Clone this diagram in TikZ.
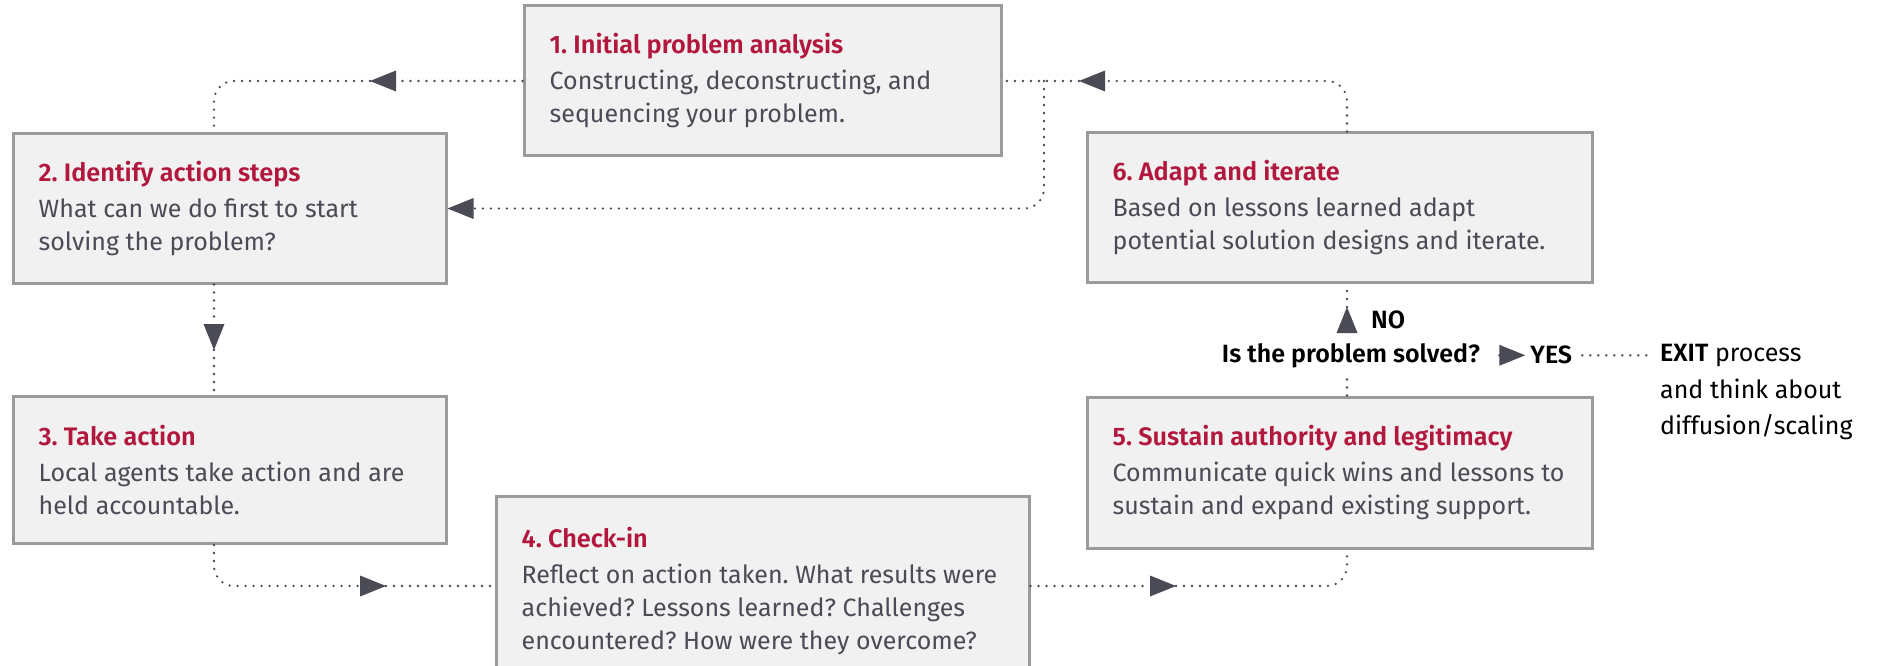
\documentclass[tikz,border=0pt]{standalone}
\usepackage{fontspec}
\setmainfont{Fira Sans}
\newfontfamily\semi{Fira Sans SemiBold}
\usetikzlibrary{arrows.meta,positioning}
\definecolor{rojo}{HTML}{B2183E}
\definecolor{gris}{HTML}{4A4B55}
\definecolor{fondo}{HTML}{F0F1F0}
\definecolor{borde}{HTML}{9B9B9E}
\newcommand{\encabezado}[1]{{\semi\fontsize{25.3}{33}\selectfont\color{rojo}#1}\\[3pt]}
\tikzstyle{caja}=[
	rectangle,
	draw=borde,
	line width=3pt,
	fill=fondo]
\tikzstyle{texto}=[
	align=left,
	inner xsep=27pt,
	inner ysep=0pt,
	text=gris,
	font=\fontsize{25}{33}\selectfont]
\tikzstyle{flujo}=[
	draw=gris,
	line width=2.6pt,
	line cap=round,
	dash pattern=on 0pt off 8pt]
\tikzstyle{decision}=[
	font=\fontsize{25}{33}\selectfont\semi,
	inner xsep=5pt,
	inner ysep=2pt]

\begin{document}
\frenchspacing
\begin{tikzpicture}[x=1pt,y=-1pt,>={Triangle[length=26pt,width=21pt,line width=0pt]}]
	\useasboundingbox (0,0) rectangle (1877,666);
	\clip (0,0) rectangle (1877,666);
	\begin{scope}
		\node[caja,minimum width=477pt,minimum height=150pt]	(analisis)	at (762.5,81)	{};
		\node[caja,minimum width=433pt,minimum height=149pt]	(pasos)		at (229.5,208.5)	{};
		\node[caja,minimum width=433pt,minimum height=147pt]	(accion)	at (229.5,470)	{};
		\node[caja,minimum width=533pt,minimum height=180pt]	(revision)	at (762.5,586)	{};
		\node[caja,minimum width=505pt,minimum height=151pt]	(sostener)	at (1339.5,472.5)	{};
		\node[caja,minimum width=505pt,minimum height=149pt]	(adaptar)	at (1339.5,207.5)	{};
		\node[texto]	(analisis txt)	[right=0pt of analisis.west]	{\encabezado{1. Initial problem analysis}Constructing, deconstructing, and\\sequencing your problem.};
		\node[texto]	(pasos txt)		[right=0pt of pasos.west]	{\encabezado{2. Identify action steps}What can we do first to start\\solving the problem?};
		\node[texto]	(accion txt)	[right=0pt of accion.west]	{\encabezado{3. Take action}Local agents take action and are\\held accountable.};
		\node[texto,yshift=-5pt]	(revision txt)	[right=0pt of revision.west]	{\encabezado{4. Check-in}Reflect on action taken. What results were\\achieved? Lessons learned? Challenges\\encountered? How were they overcome?};
		\node[texto]	(sostener txt)	[right=0pt of sostener.west]	{\encabezado{5. Sustain authority and legitimacy}Communicate quick wins and lessons to\\sustain and expand existing support.};
		\node[texto]	(adaptar txt)	[right=0pt of adaptar.west]	{\encabezado{6. Adapt and iterate}Based on lessons learned adapt\\potential solution designs and iterate.};
		\node[decision,anchor=base]	(pregunta)	at (1351,362)	{Is the problem solved?};
		\node[decision,anchor=west]	(no)	at (1366,320)	{NO};
		\node[decision,right=40pt of pregunta]	(si)	{YES};
		\node[anchor=north west,align=left,inner xsep=8pt,inner ysep=0pt,font=\fontsize{25}{36.5}\selectfont]	(salida)	at (1652,344)	{{\semi EXIT} process\\and think about\\diffusion/scaling};
	\end{scope}
	\begin{scope}
		\coordinate (ci) at (214,0);
		\coordinate (cd) at (1347,0);
		\coordinate (rama) at (1044,81);
		\coordinate (t1) at (370,81);
		\coordinate (t2) at (1079,81);
		\coordinate (t3) at (214,350);
		\coordinate (t4) at (386,586);
		\coordinate (t5) at (1176,586);
		\coordinate (t6) at (1347,307);
		\draw[flujo,->] (analisis.west) -- (t1);
		\draw[flujo,rounded corners=20pt] (t1) -| (ci |- pasos.north);
		\draw[flujo,->,rounded corners=20pt] (cd |- adaptar.north) |- (t2);
		\draw[flujo] (t2) -- (analisis.east);
		\draw[flujo,->,rounded corners=20pt] (rama) |- (pasos.east);
		\draw[flujo,->] (ci |- pasos.south) -- (t3);
		\draw[flujo] (t3) -- (ci |- accion.north);
		\draw[flujo,->,rounded corners=20pt] (ci |- accion.south) |- (t4);
		\draw[flujo] (t4) -- (revision.west);
		\draw[flujo,->] (revision.east) -- (t5);
		\draw[flujo,rounded corners=20pt] (t5) -| (cd |- sostener.south);
		\draw[flujo,shorten >=6pt] (cd |- sostener.north) -- (cd |- pregunta.south);
		\draw[flujo,->,shorten <=9pt] (cd |- pregunta.north) -- (t6);
		\draw[flujo] (t6) -- (cd |- adaptar.south);
		\draw[flujo,->,shorten <=14pt] (pregunta.east) -- (si.west);
		\draw[flujo,shorten <=5pt] (si.east) -- (si.east -| salida.west);
	\end{scope}
\end{tikzpicture}
\end{document}
